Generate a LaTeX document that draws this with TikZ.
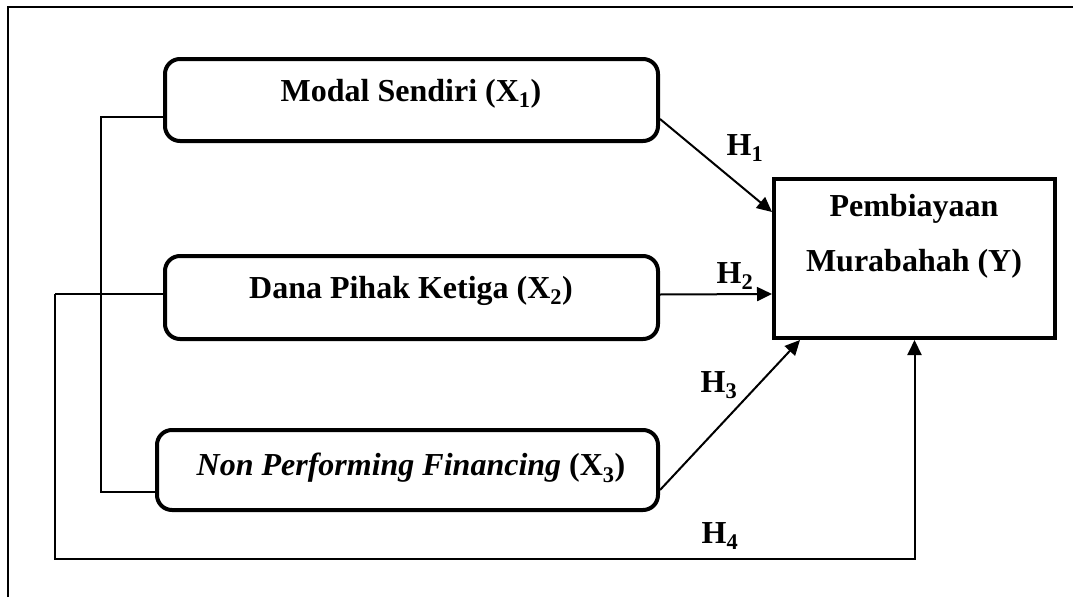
\documentclass[tikz,border=0pt]{standalone}
\usepackage{fontspec}
\setmainfont{Liberation Serif}
\usetikzlibrary{arrows.meta,calc}
\begin{document}
\begin{tikzpicture}[x=1pt,y=-1pt,
  varbox/.style={draw,line width=4pt,rounded corners=15pt,inner sep=0pt},
  ybox/.style={draw,line width=4pt,inner sep=0pt,minimum width=281pt,minimum height=159pt},
  txt/.style={font=\fontsize{32}{55}\selectfont\bfseries,inner sep=0pt,align=center},
  hlab/.style={font=\fontsize{32}{38}\selectfont\bfseries,inner sep=0pt},
  conn/.style={line width=2pt},
  arr/.style={line width=2pt,-{Triangle[length=15pt,width=14pt]}},
  frameline/.style={line width=2pt}]
\useasboundingbox (0,0) rectangle (1073,597);
\draw[frameline] (8,597) -- (8,7) -- (1073,7);
% boxes
\node[varbox,minimum width=493pt,minimum height=82pt] (X1) at (411.5,100) {};
\node[varbox,minimum width=493pt,minimum height=83pt] (X2) at (411.5,297.5) {};
\node[varbox,minimum width=501pt,minimum height=80pt] (X3) at (407.5,470) {};
\node[ybox] (Y) at (914.5,258.5) {};
% texts
\node[txt] (t1) at (411,94) {Modal Sendiri (X\textsubscript{1})};
\node[txt] (t2) at (411,291) {Dana Pihak Ketiga (X\textsubscript{2})};
\node[txt] (t3) at (411,468) {\textit{Non Performing Financing} (X\textsubscript{3})};
\node[txt] (ty) at (914,236) {Pembiayaan\\Murabahah (Y)};
% hypothesis labels
\node[hlab] (h1) at (745,148) {H\textsubscript{1}};
\node[hlab] (h2) at (735,276) {H\textsubscript{2}};
\node[hlab] (h3) at (719,385) {H\textsubscript{3}};
\node[hlab] (h4) at (720,536) {H\textsubscript{4}};
% connectors
\draw[arr] ($(X1.east)+(0,19)$) -- ($(Y.north west)+(0,35)$);
\draw[arr] ($(X2.east)+(0,-3)$) -- ($(Y.west)+(0,35.5)$);
\draw[arr] ($(X3.east)+(0,20)$) -- ($(Y.south west)+(28,0)$);
\coordinate (a) at (55,294);
\coordinate (c) at (55,559);
\coordinate (b) at (101,117);
\draw[conn] ($(X2.west)+(0,-3.5)$) -- (a);
\draw[arr] (a) -- (c) -| (Y.south);
\draw[conn] ($(X1.west)+(0,17)$) -- (b) |- ($(X3.west)+(0,22)$);
\end{tikzpicture}
\end{document}
